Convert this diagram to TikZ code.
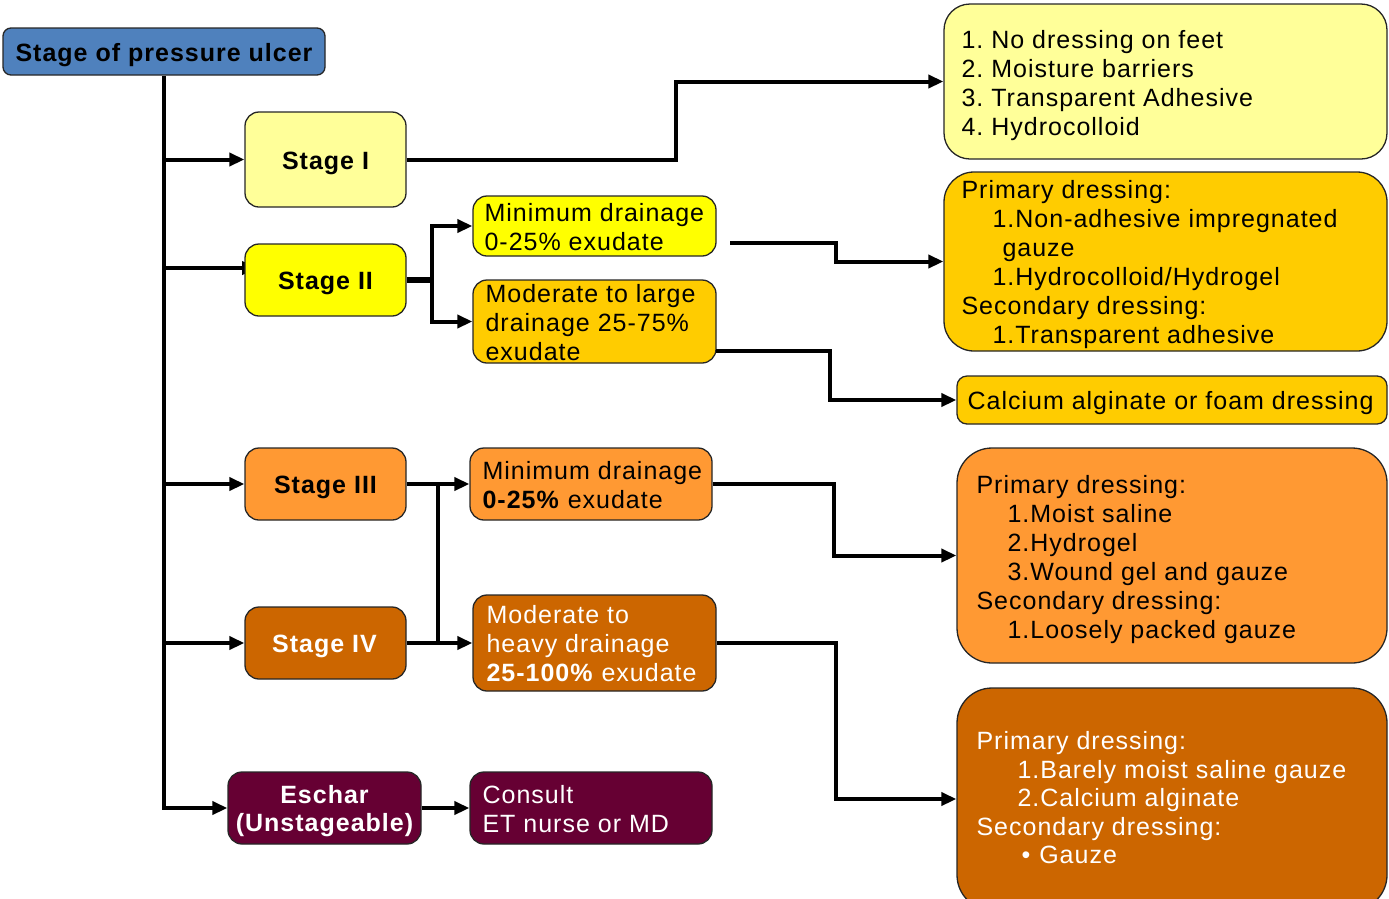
\documentclass[tikz,border=0pt]{standalone}
\usepackage{fontspec}
\setmainfont{Liberation Sans}[LetterSpace=4]
\usetikzlibrary{arrows.meta,calc}
\definecolor{cblue}{HTML}{4F81BD}
\definecolor{clyel}{HTML}{FFFF99}
\definecolor{cyel}{HTML}{FFFF00}
\definecolor{cgold}{HTML}{FFCC00}
\definecolor{corange}{HTML}{FF9933}
\definecolor{cdorange}{HTML}{CC6600}
\definecolor{cmaroon}{HTML}{660033}
\begin{document}
\begin{tikzpicture}[x=1pt,y=-1pt,
  box/.style={draw=black!85, line width=1.3pt, rounded corners=14pt, inner sep=0pt,
    font=\fontsize{25}{29}\selectfont},
  stagetxt/.style={inner sep=0pt, align=center, font=\fontsize{25}{28}\selectfont\bfseries},
  txt/.style={inner sep=0pt, anchor=west, align=left, font=\fontsize{25}{29}\selectfont},
  conn/.style={line width=4pt},
  arr/.style={conn, -{Triangle[length=15pt,width=13pt]}}]
\useasboundingbox (0,0) rectangle (1389,898);
\clip (0,0) rectangle (1389,898);

% junction coordinates
\coordinate (s2w) at (257,268);
\coordinate (k1) at (676,0);
\coordinate (j2) at (432,280);
\coordinate (m2o) at (730,243);
\coordinate (k2) at (836,0);
\coordinate (mlo) at (716,351);
\coordinate (k3) at (830,0);
\coordinate (ja) at (438,484);
\coordinate (jb) at (438,643);
\coordinate (k4) at (834,0);
\coordinate (k5) at (836,0);
\coordinate (tr) at (164,75);

% Stage II branch drawn beneath its box (arrowhead hidden as in the reference)
\draw[arr] (tr |- s2w) -- (s2w);

% left column
\node[box, fill=cblue, rounded corners=8pt, minimum width=322pt, minimum height=47pt] (root) at (164,51.5) {};
\node[stagetxt] (roott) at ([yshift=-3.5pt]root.center) {Stage of pressure ulcer};
\node[box, fill=clyel, minimum width=161pt, minimum height=95pt] (s1) at (325.5,159.5) {};
\node[stagetxt] (s1t) at ([yshift=-3.5pt]s1.center) {Stage I};
\node[box, fill=cyel, minimum width=161pt, minimum height=72pt] (s2) at (325.5,280) {};
\node[stagetxt] (s2t) at ([yshift=-3.5pt]s2.center) {Stage II};
\node[box, fill=corange, minimum width=161pt, minimum height=72pt] (s3) at (325.5,484) {};
\node[stagetxt] (s3t) at ([yshift=-3.5pt]s3.center) {Stage III};
\node[box, fill=cdorange, minimum width=161pt, minimum height=72pt] (s4) at (325.5,643) {};
\node[stagetxt, text=white] (s4t) at ([xshift=-1pt,yshift=-3pt]s4.center) {Stage IV};
\node[box, fill=cmaroon, minimum width=193pt, minimum height=72pt] (es) at (324.5,808) {};
\node[stagetxt, text=white] (est) at ([yshift=-3pt]es.center) {Eschar\\(Unstageable)};

% middle column
\node[box, fill=cyel, minimum width=243pt, minimum height=60pt] (m2) at (594.5,226) {};
\node[txt] (m2t) at ([xshift=12pt,yshift=-1pt]m2.west) {Minimum drainage\\0-25\% exudate};
\node[box, fill=cgold, minimum width=243pt, minimum height=83pt] (ml) at (594.5,321.5) {};
\node[txt] (mlt) at ([xshift=13pt,yshift=-1.5pt]ml.west) {Moderate to large\\drainage 25-75\%\\exudate};
\node[box, fill=corange, minimum width=242pt, minimum height=72pt] (m3) at (591,484) {};
\node[txt] (m3t) at ([xshift=13pt,yshift=-1pt]m3.west) {Minimum drainage\\\textbf{0-25\%} exudate};
\node[box, fill=cdorange, minimum width=243pt, minimum height=96pt] (mh) at (594.5,643) {};
\node[txt, text=white] (mht) at ([xshift=14pt,yshift=-1pt]mh.west) {Moderate to\\heavy drainage\\\textbf{25-100\%} exudate};
\node[box, fill=cmaroon, minimum width=242pt, minimum height=72pt] (co) at (591,808) {};
\node[txt, text=white] (cot) at ([xshift=13pt,yshift=-1pt]co.west) {Consult\\ET nurse or MD};

% right column
\node[box, fill=clyel, rounded corners=26pt, minimum width=443pt, minimum height=155pt] (r1) at (1165.5,81.5) {};
\node[txt] (r1t) at ([xshift=18pt,yshift=-4pt]r1.west) {1.\ No dressing on feet\\2.\ Moisture barriers\\3.\ Transparent Adhesive\\4.\ Hydrocolloid};
\node[box, fill=cgold, rounded corners=30pt, minimum width=443pt, minimum height=179pt] (r2) at (1165.5,261.5) {};
\node[txt] (r2t) at ([xshift=18pt,yshift=-3pt]r2.west) {Primary dressing:\\\hspace*{31pt}1.Non-adhesive impregnated\\\hspace*{41pt}gauze\\\hspace*{31pt}1.Hydrocolloid/Hydrogel\\Secondary dressing:\\\hspace*{31pt}1.Transparent adhesive};
\node[box, fill=cgold, rounded corners=10pt, minimum width=430pt, minimum height=48pt] (ca) at (1172,400) {};
\node[txt] (cat) at ([xshift=11pt,yshift=-3.5pt]ca.west) {Calcium alginate or foam dressing};
\node[box, fill=corange, rounded corners=35pt, minimum width=430pt, minimum height=215pt] (r3) at (1172,555.5) {};
\node[txt] (r3t) at ([xshift=20pt,yshift=-4pt]r3.west) {Primary dressing:\\\hspace*{31pt}1.Moist saline\\\hspace*{31pt}2.Hydrogel\\\hspace*{31pt}3.Wound gel and gauze\\Secondary dressing:\\\hspace*{31pt}1.Loosely packed gauze};
\node[box, fill=cdorange, rounded corners=35pt, minimum width=430pt, minimum height=222pt] (r4) at (1172,799) {};
\node[txt, text=white, font=\fontsize{25}{28.5}\selectfont] (r4t) at ([xshift=20pt,yshift=1pt]r4.west) {Primary dressing:\\\hspace*{41pt}1.Barely moist saline gauze\\\hspace*{41pt}2.Calcium alginate\\Secondary dressing:\\\hspace*{45pt}\textbullet\hspace{9pt}Gauze};

% trunk and branches
\draw[arr] (root.south) |- (es.west);
\draw[arr] (root.south |- s1.west) -- (s1.west);
\draw[arr] (root.south |- s3.west) -- (s3.west);
\draw[arr] (root.south |- s4.west) -- (s4.west);

% stage I
\draw[arr] (s1.east) -- (s1.east -| k1) |- (r1.west);
% stage II
\draw[conn, line width=6.5pt] (s2.east) -- (j2);
\draw[arr] (j2) |- (m2.west);
\draw[arr] (j2) |- (ml.west);
\draw[arr] (m2o) -- (m2o -| k2) |- (r2.west);
\draw[arr] (mlo) -- (mlo -| k3) |- (ca.west);
% stage III / IV
\draw[arr] (s3.east) -- (m3.west);
\draw[arr] (s4.east) -- (mh.west);
\draw[conn] (ja) -- (jb);
\draw[arr] (m3.east) -- (m3.east -| k4) |- (r3.west);
\draw[arr] (mh.east) -- (mh.east -| k5) |- (r4.west);
% eschar
\draw[arr] (es.east) -- (co.west);
\end{tikzpicture}
\end{document}
